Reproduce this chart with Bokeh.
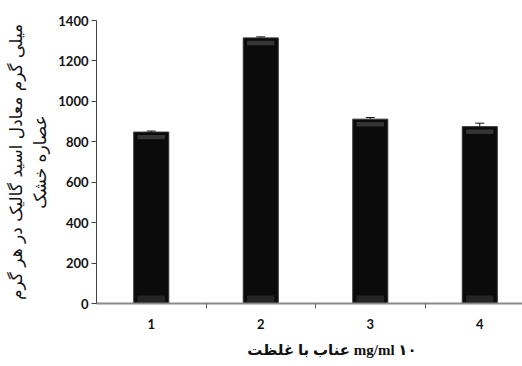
from bokeh.plotting import figure
from bokeh.models import ColumnDataSource, Whisker, FixedTicker
from bokeh.embed import file_html
from bokeh.resources import INLINE

categories = ["1", "2", "3", "4"]
positions = [1, 2, 3, 4]
values = [848, 1314, 912, 875]
errors = [5, 5, 8, 17]
y_ticks = [0, 200, 400, 600, 800, 1000, 1200, 1400]

upper = [v + e for v, e in zip(values, errors)]
src = ColumnDataSource(dict(x=positions, top=values, upper=upper, lower=values,
                            hl_top=[v - 14 for v in values],
                            hl_bot=[v - 36 for v in values]))

p = figure(width=522, height=366, output_backend="svg", toolbar_location=None,
           x_range=(0.5, 4.39), y_range=(0, 1400),
           min_border_left=96, min_border_right=0, min_border_top=20, min_border_bottom=63)
p.outline_line_color = None
p.xgrid.grid_line_color = None
p.ygrid.grid_line_color = None
p.background_fill_color = "white"

p.vbar(x="x", top="top", bottom=0, width=0.32, source=src,
       fill_color="#0b0b0b", line_color="#333333", line_width=1)
# bevel highlights (styling)
p.vbar(x="x", top="hl_top", bottom="hl_bot", width=0.25, source=src,
       fill_color="#404040", line_color=None, fill_alpha=0.8)
p.vbar(x="x", top=40, bottom=8, width=0.25, source=src,
       fill_color="#2c2c2c", line_color=None, fill_alpha=0.8)

w = Whisker(source=src, base="x", upper="upper", lower="lower",
            line_color="#111111", line_width=1)
w.upper_head.size = 9
w.upper_head.line_color = "#111111"
w.lower_head.line_alpha = 0
p.add_layout(w)

# x axis
p.xaxis.ticker = FixedTicker(ticks=positions, minor_ticks=[1.5, 2.5, 3.5])
p.xaxis.major_label_overrides = {pos: c for pos, c in zip(positions, categories)}
p.xaxis.major_tick_line_color = None
p.xaxis.minor_tick_in = 0
p.xaxis.minor_tick_out = 5
p.xaxis.minor_tick_line_color = "#666666"
p.xaxis.axis_line_color = "#8a8a8a"
p.xaxis.axis_line_width = 2
p.xaxis.major_label_standoff = 9
p.xaxis.major_label_text_font = "Lato"
p.xaxis.major_label_text_font_style = "bold"
p.xaxis.major_label_text_font_size = "13px"
p.xaxis.major_label_text_color = "#111111"
p.xaxis.axis_label = "\u00a0" * 12 + "عناب با غلظت mg/ml ۱۰"
p.xaxis.axis_label_text_font = "Liberation Serif, DejaVu Sans"
p.xaxis.axis_label_text_font_style = "bold"
p.xaxis.axis_label_text_font_size = "15px"
p.xaxis.axis_label_text_color = "#111111"
p.xaxis.axis_label_standoff = 10

# y axis
p.yaxis.ticker = FixedTicker(ticks=y_ticks, minor_ticks=[])
p.yaxis.major_tick_in = 0
p.yaxis.major_tick_out = 5
p.yaxis.major_tick_line_color = "#444444"
p.yaxis.axis_line_color = "#444444"
p.yaxis.axis_line_width = 1
p.yaxis.major_label_standoff = 3
p.yaxis.major_label_text_font = "Lato"
p.yaxis.major_label_text_font_style = "bold"
p.yaxis.major_label_text_font_size = "13px"
p.yaxis.major_label_text_color = "#111111"
p.yaxis.axis_label = "میلی گرم معادل اسید گالیک در هر گرم\nعصاره خشک"
p.yaxis.axis_label_text_font = "DejaVu Sans"
p.yaxis.axis_label_text_font_style = "normal"
p.yaxis.axis_label_text_font_size = "17px"
p.yaxis.axis_label_text_color = "#111111"
p.yaxis.axis_label_standoff = 5

open("out.html", "w").write(file_html(p, INLINE))
